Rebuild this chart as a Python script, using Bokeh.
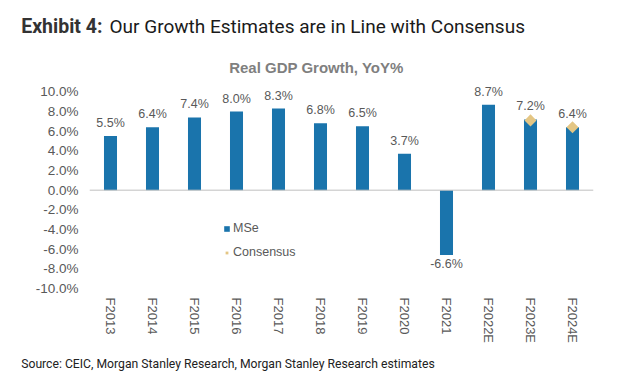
from bokeh.plotting import figure
from bokeh.models import (ColumnDataSource, FactorRange, Range1d, FixedTicker,
                          PrintfTickFormatter, Span, Label, Legend, LegendItem)
from bokeh.layouts import column
from bokeh.core.properties import value
from bokeh.embed import file_html
from bokeh.resources import INLINE
import math

# ---- data ----
categories = ["F2013", "F2014", "F2015", "F2016", "F2017", "F2018", "F2019",
              "F2020", "F2021", "F2022E", "F2023E", "F2024E"]
mse_values = [5.5, 6.4, 7.4, 8.0, 8.3, 6.8, 6.5, 3.7, -6.6, 8.7, 7.2, 6.4]
consensus_categories = ["F2023E", "F2024E"]
consensus_values = [7.1, 6.4]
y_ticks = [-10, -8, -6, -4, -2, 0, 2, 4, 6, 8, 10]

W = 620
HEADER_H = 80
MAIN_H = 272
FOOTER_H = 383 - HEADER_H - MAIN_H

Y_MIN, Y_MAX = -10.0, 10.75
FRAME_H = 204
PX_PER_UNIT = FRAME_H / (Y_MAX - Y_MIN)
BASE_SHIFT = 5.5  # empirical baseline correction

BAR_COLOR = "#1A74AC"
DIAMOND_COLOR = "#E4C684"
TEXT_GRAY = "#595959"


def blank_fig(h):
    f = figure(width=W, height=h, x_range=Range1d(0, W), y_range=Range1d(h, 0),
               x_axis_location=None, y_axis_location=None,
               output_backend="svg", toolbar_location=None,
               min_border=0, min_border_left=0, min_border_right=0,
               min_border_top=0, min_border_bottom=0)
    f.frame_align = False
    f.outline_line_color = None
    f.xgrid.grid_line_color = None
    f.ygrid.grid_line_color = None
    f.background_fill_color = "white"
    f.border_fill_color = "white"
    return f


# ---- header ----
head = blank_fig(HEADER_H)
head.add_layout(Label(x=20.7, y=31.7 - BASE_SHIFT, text="Exhibit 4:", text_font="Roboto",
                      text_font_style="bold", text_font_size="19.5px", text_color="#333333",
                      text_baseline="alphabetic"))
head.add_layout(Label(x=109, y=31.7 - BASE_SHIFT,
                      text="Our Growth Estimates are in Line with Consensus",
                      text_font="Roboto", text_font_size="19px", text_color="#1a1a1a",
                      text_baseline="alphabetic"))
head.add_layout(Label(x=316, y=72.7 - BASE_SHIFT, text="Real GDP Growth, YoY%",
                      text_font="Liberation Sans", text_font_style="bold",
                      text_font_size="15px", text_color="#7F7F7F",
                      text_align="center", text_baseline="alphabetic"))

# ---- main chart ----
p = figure(x_range=FactorRange(*categories, range_padding=0, factor_padding=0),
           y_range=Range1d(Y_MIN, Y_MAX),
           width=W, height=MAIN_H, output_backend="svg", toolbar_location=None,
           min_border_left=89, min_border_right=27, min_border_top=84 - HEADER_H,
           min_border_bottom=MAIN_H - (84 - HEADER_H) - FRAME_H)
p.frame_align = False
p.outline_line_color = None
p.background_fill_color = "white"
p.border_fill_color = "white"
p.xgrid.grid_line_color = None
p.ygrid.grid_line_color = None

src = ColumnDataSource(dict(
    cat=categories,
    val=mse_values,
    lab=["%.1f%%" % v for v in mse_values],
    laby=[v + 13.0 / PX_PER_UNIT if v >= 0 else v - 9.0 / PX_PER_UNIT for v in mse_values],
))
bars = p.vbar(x="cat", top="val", bottom=0, width=0.31, source=src,
              fill_color=BAR_COLOR, line_color=None)

p.add_layout(Span(location=0, dimension="width", line_color="#BFBFBF", line_width=1))

csrc = ColumnDataSource(dict(cat=consensus_categories, val=consensus_values))
dia = p.scatter(x="cat", y="val", source=csrc, marker="square", angle=math.pi / 4,
                size=8.5, fill_color=DIAMOND_COLOR, line_color=None)

p.text(x="cat", y="laby", text="lab", source=src, text_align="center",
       text_baseline="middle", text_font=value("Liberation Sans"),
       text_font_size="12.5px", text_color=TEXT_GRAY)

p.yaxis.ticker = FixedTicker(ticks=y_ticks)
p.yaxis.formatter = PrintfTickFormatter(format="%.1f%%")
p.yaxis.axis_line_color = None
p.yaxis.major_tick_line_color = None
p.yaxis.minor_tick_line_color = None
p.yaxis.major_tick_out = 0
p.yaxis.major_tick_in = 0
p.yaxis.major_label_standoff = 11
p.yaxis.major_label_text_font = "Liberation Sans"
p.yaxis.major_label_text_font_size = "13.5px"
p.yaxis.major_label_text_color = TEXT_GRAY

p.xaxis.axis_line_color = None
p.xaxis.major_tick_line_color = None
p.xaxis.major_tick_out = 0
p.xaxis.major_tick_in = 0
p.xaxis.major_label_orientation = "vertical"
p.xaxis.major_label_standoff = 9
p.xaxis.major_label_text_font = "Liberation Sans"
p.xaxis.major_label_text_font_size = "13px"
p.xaxis.major_label_text_color = TEXT_GRAY

legend = Legend(items=[LegendItem(label="MSe", renderers=[bars]),
                       LegendItem(label="Consensus", renderers=[dia])],
                location=(134, 26), orientation="vertical",
                glyph_width=7, glyph_height=7, label_standoff=3,
                label_height=20, spacing=4, padding=0, margin=0,
                border_line_color=None, background_fill_alpha=0,
                label_text_font="Liberation Sans", label_text_font_size="12.5px",
                label_text_color=TEXT_GRAY)
p.add_layout(legend, "center")

# ---- footer ----
foot = blank_fig(FOOTER_H)
foot.add_layout(Label(x=20.7, y=369.3 - HEADER_H - MAIN_H - BASE_SHIFT,
                      text="Source: CEIC, Morgan Stanley Research, Morgan Stanley Research estimates",
                      text_font="Roboto", text_font_size="12.2px", text_color="#222222",
                      text_baseline="alphabetic"))

layout = column(head, p, foot, spacing=0)
open("out.html", "w").write(file_html(layout, INLINE))
